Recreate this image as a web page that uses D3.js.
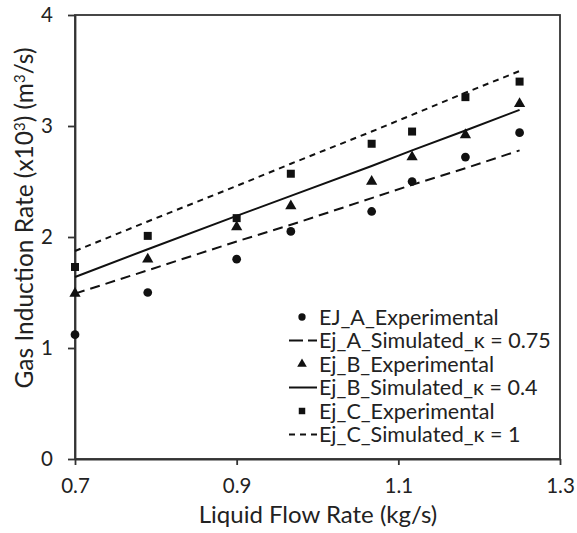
<!DOCTYPE html>
<html><head><meta charset="utf-8">
<script src="https://cdn.jsdelivr.net/npm/d3@7"></script>
<style>body{margin:0;background:#fff}text{font-family:Lato,"Open Sans",sans-serif;fill:#222}</style>
</head><body><svg id="c" width="577" height="533"></svg>
<script>
const xValues = [0.70, 0.79, 0.90, 0.967, 1.067, 1.117, 1.183, 1.25];
const expA = [1.12, 1.50, 1.80, 2.05, 2.23, 2.50, 2.72, 2.94];
const expB = [1.49, 1.80, 2.09, 2.28, 2.50, 2.72, 2.92, 3.20];
const expC = [1.73, 2.01, 2.17, 2.57, 2.84, 2.95, 3.26, 3.40];
const simA = [1.49, 1.70, 1.96, 2.11, 2.35, 2.47, 2.62, 2.78];
const simB = [1.64, 1.89, 2.19, 2.37, 2.64, 2.78, 2.96, 3.145];
const simC = [1.874, 2.14, 2.46, 2.66, 2.95, 3.10, 3.30, 3.495];
const xTicks = [0.7, 0.9, 1.1, 1.3];
const yTicks = [0, 1, 2, 3, 4];
const legendLabels = ["EJ_A_Experimental","Ej_A_Simulated_κ = 0.75","Ej_B_Experimental","Ej_B_Simulated_κ = 0.4","Ej_C_Experimental","Ej_C_Simulated_κ = 1"];

const svg = d3.select("#c");
const L=75,R=560,T=15,B=459;
const x = d3.scaleLinear().domain([0.7,1.3]).range([L,R]);
const y = d3.scaleLinear().domain([0,4]).range([B,T]);
const axisCol="#333";

svg.append("rect").attr("x",L).attr("y",T).attr("width",R-L).attr("height",B-T)
  .attr("fill","none").attr("stroke",axisCol).attr("stroke-width",1.8);

const xa = svg.append("g").attr("transform",`translate(0,${B})`)
  .call(d3.axisBottom(x).tickValues(xTicks).tickFormat(d3.format(".1f")).tickSize(6).tickSizeOuter(0));
const ya = svg.append("g").attr("transform",`translate(${L},0)`)
  .call(d3.axisLeft(y).tickValues(yTicks).tickFormat(d3.format("d")).tickSize(7).tickSizeOuter(0));
[xa,ya].forEach(a=>{a.select(".domain").attr("stroke",axisCol).attr("stroke-width",1.8);
  a.selectAll(".tick line").attr("stroke",axisCol).attr("stroke-width",1.8);
  a.selectAll("text").style("font-size","20.5px").attr("fill","#222");});
xa.selectAll("text").attr("y",34).attr("dy",0);
ya.selectAll("text").attr("x",-22);

svg.append("text").attr("x",318).attr("y",523).attr("text-anchor","middle")
  .style("font-size","24px").text("Liquid Flow Rate (kg/s)");
const yt = svg.append("text").attr("transform",`translate(33,218) rotate(-90)`)
  .attr("text-anchor","middle").style("font-size","24.5px");
yt.append("tspan").text("Gas Induction Rate (x10");
yt.append("tspan").text("3").attr("dy",-8).style("font-size","15px");
yt.append("tspan").text(") (m").attr("dy",8);
yt.append("tspan").text("3").attr("dy",-8).style("font-size","15px");
yt.append("tspan").text("/s)").attr("dy",8);

const line = d3.line().x(d=>x(d[0])).y(d=>y(d[1]));
const sims=[[simA,"10,6"],[simB,null],[simC,"6,5"]];
sims.forEach(([s,dash])=>{
  svg.append("path").datum(xValues.map((v,i)=>[v,s[i]])).attr("d",line)
    .attr("fill","none").attr("stroke","#111").attr("stroke-width",2).attr("stroke-dasharray",dash);
});
const circ=d3.symbol().type(d3.symbolCircle).size(60);
const tri=d3.symbol().type(d3.symbolTriangle).size(55);
const sq=d3.symbol().type(d3.symbolSquare).size(64);
[[expA,circ],[expB,tri],[expC,sq]].forEach(([s,sym])=>{
  svg.append("g").selectAll("path").data(xValues.map((v,i)=>[v,s[i]])).join("path")
    .attr("transform",d=>`translate(${x(d[0])},${y(d[1])})`).attr("d",sym).attr("fill","#111");
});

const ly0=317, ldy=23.5;
const dashes=[null,"14,5,6,0",null,null,null,"6,5"];
legendLabels.forEach((lab,i)=>{
  const yy=ly0+i*ldy;
  if(i%2===0){
    svg.append("path").attr("d",d3.symbol().type([d3.symbolCircle,d3.symbolTriangle,d3.symbolSquare][i/2]).size([42,40,42][i/2])())
      .attr("transform",`translate(302,${yy})`).attr("fill","#111");
  } else {
    svg.append("line").attr("x1",289).attr("x2",317).attr("y1",yy).attr("y2",yy)
      .attr("stroke","#111").attr("stroke-width",2).attr("stroke-dasharray",dashes[i]);
  }
  svg.append("text").attr("x",319).attr("y",yy).attr("dy","0.36em").style("font-size","21.5px").text(lab);
});
</script></body></html>
